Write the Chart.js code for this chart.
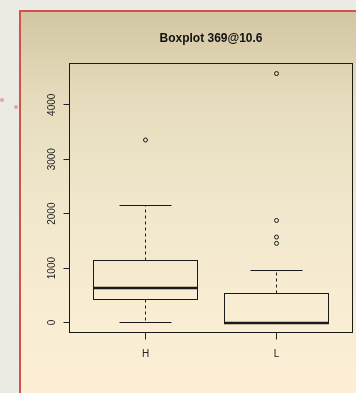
<!DOCTYPE html>
<html>
<head>
<meta charset="utf-8">
<script src="https://cdn.jsdelivr.net/npm/chart.js@4.4.1/dist/chart.umd.min.js"></script>
<style>
  html, body { margin:0; padding:0; width:356px; height:393px; overflow:hidden; background:#ecebe3; }
  #panel { position:absolute; left:19px; top:10px; width:360px; height:381px;
    border-left:2px solid #cf5150; border-top:2px solid #cf5150;
    background:linear-gradient(to bottom, #d2c6a2 0%, #e6dbbc 22%, #f0e7cc 50%, #f8ecd2 75%, #fcefd5 100%); }
  .dot { position:absolute; width:4px; height:4px; border-radius:2px; background:#e2a3a8; }
  #c { position:absolute; left:0; top:0; }
</style>
</head>
<body>
<div id="panel"></div>
<div class="dot" style="left:0px;top:98px;"></div>
<div class="dot" style="left:14px;top:105px;"></div>
<canvas id="c" width="356" height="393"></canvas>
<script>
// ---- data ----
const chartTitle = 'Boxplot 369@10.6';
const categories = ['H', 'L'];
const positions = [1, 2];
const whiskerLow = [0, 0];
const q1 = [416, 0];
const median = [630, 0];
const q3 = [1143, 531];
const whiskerHigh = [2156, 965];
const outliersH = [3352];
const outliersL = [1454, 1570, 1875, 4573];
const yTicks = [0, 1000, 2000, 3000, 4000];
const yMin = -183, yMax = 4758;
const xMin = 0.42, xMax = 2.58;
const boxHalf = 0.4, stapleHalf = 0.2;

const FONT = "'Liberation Sans', Arial, Helvetica, sans-serif";
const INK = '#1a1a1a';

function snap(v) { return Math.floor(v) + 0.5; }

const boxPlugin = {
  id: 'boxes',
  beforeDatasetsDraw(chart) {
    const { ctx, chartArea: a, scales: { x, y } } = chart;
    ctx.save();
    ctx.strokeStyle = INK;
    ctx.lineWidth = 1;
    // plot frame
    ctx.strokeRect(a.left, a.top, a.right - a.left, a.bottom - a.top);
    for (let i = 0; i < categories.length; i++) {
      const cx = snap(x.getPixelForValue(positions[i]));
      const l = snap(x.getPixelForValue(positions[i] - boxHalf));
      const r = snap(x.getPixelForValue(positions[i] + boxHalf));
      const sl = snap(x.getPixelForValue(positions[i] - stapleHalf));
      const sr = snap(x.getPixelForValue(positions[i] + stapleHalf));
      const yWl = snap(y.getPixelForValue(whiskerLow[i]));
      const yQ1 = snap(y.getPixelForValue(q1[i]));
      const yMed = y.getPixelForValue(median[i]);
      const yQ3 = snap(y.getPixelForValue(q3[i]));
      const yWh = snap(y.getPixelForValue(whiskerHigh[i]));
      // dashed whiskers
      ctx.setLineDash([3, 3]);
      ctx.beginPath();
      ctx.moveTo(cx, yQ3); ctx.lineTo(cx, yWh);
      if (yWl - yQ1 > 1) { ctx.moveTo(cx, yQ1); ctx.lineTo(cx, yWl); }
      ctx.stroke();
      ctx.setLineDash([]);
      // staples
      ctx.beginPath();
      ctx.moveTo(sl, yWh); ctx.lineTo(sr, yWh);
      ctx.moveTo(sl, yWl); ctx.lineTo(sr, yWl);
      ctx.stroke();
      // box
      ctx.strokeRect(l, yQ3, r - l, yQ1 - yQ3);
      // median
      ctx.lineWidth = 2.5;
      ctx.beginPath();
      ctx.moveTo(l - 0.5, Math.round(yMed)); ctx.lineTo(r + 0.5, Math.round(yMed));
      ctx.stroke();
      ctx.lineWidth = 1;
    }
    ctx.restore();
  }
};

const pointStyle = {
  type: 'scatter',
  pointStyle: 'circle',
  pointRadius: 2,
  pointHoverRadius: 2,
  pointBorderWidth: 1,
  borderColor: INK,
  backgroundColor: 'rgba(0,0,0,0)',
  showLine: false
};

new Chart(document.getElementById('c'), {
  type: 'scatter',
  data: {
    datasets: [
      Object.assign({ label: categories[0], data: outliersH.map(v => ({ x: positions[0], y: v })) }, pointStyle),
      Object.assign({ label: categories[1], data: outliersL.map(v => ({ x: positions[1], y: v })) }, pointStyle)
    ]
  },
  options: {
    responsive: false,
    devicePixelRatio: 1,
    animation: false,
    events: [],
    layout: { padding: { left: 0, right: 3.5, top: 0, bottom: 0 } },
    plugins: {
      legend: { display: false },
      tooltip: { enabled: false },
      title: {
        display: true,
        text: chartTitle,
        fullSize: false,
        color: '#111',
        font: { family: FONT, size: 12, weight: 'bold' },
        padding: { top: 31.2, bottom: 17.9 }
      }
    },
    scales: {
      x: {
        type: 'linear',
        min: xMin, max: xMax,
        afterBuildTicks: s => { s.ticks = positions.map(v => ({ value: v })); },
        afterFit: s => { s.height = 60.5; },
        grid: { drawOnChartArea: false, drawTicks: true, tickLength: 7, color: '#222', tickWidth: 1 },
        border: { display: false },
        ticks: {
          autoSkip: false, maxRotation: 0, minRotation: 0, padding: 9,
          color: '#222', font: { family: FONT, size: 10 },
          callback: v => categories[positions.indexOf(v)]
        }
      },
      y: {
        type: 'linear',
        min: yMin, max: yMax,
        afterBuildTicks: s => { s.ticks = yTicks.map(v => ({ value: v })); },
        afterFit: s => { s.width = 69.5; },
        grid: { drawOnChartArea: false, drawTicks: true, tickLength: 6, color: '#222', tickWidth: 1 },
        border: { display: false },
        ticks: {
          autoSkip: false, minRotation: 90, maxRotation: 90, crossAlign: 'center', padding: 0,
          color: '#222', font: { family: FONT, size: 10 },
          callback: v => String(v)
        }
      }
    }
  },
  plugins: [boxPlugin]
});
</script>
</body>
</html>
